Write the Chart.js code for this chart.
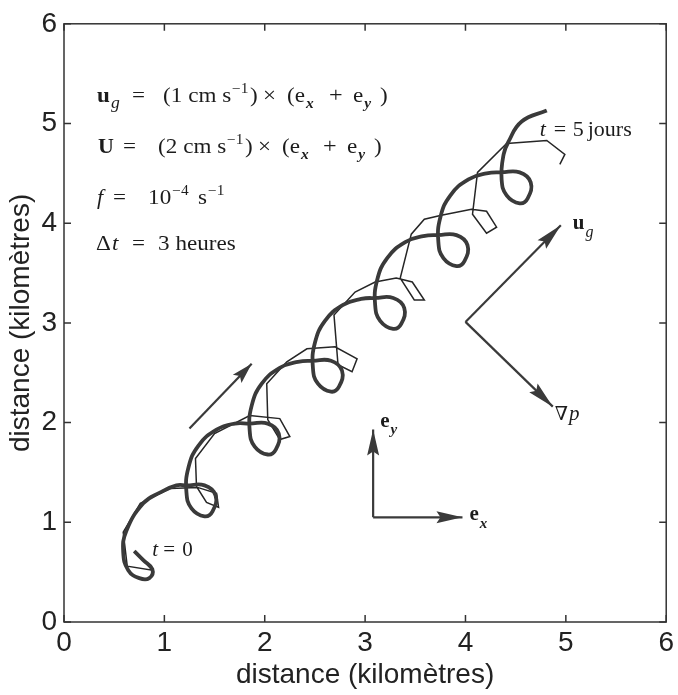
<!DOCTYPE html>
<html>
<head>
<meta charset="utf-8">
<script src="https://cdn.jsdelivr.net/npm/chart.js@4.4.1/dist/chart.umd.min.js"></script>
<style>
  html, body { margin: 0; padding: 0; background: #fff; }
  #wrap { width: 678px; height: 695px; }
</style>
</head>
<body>
<div id="wrap"><canvas id="chartSpirale"></canvas></div>
<script>
// trajectoire exacte (trait epais), en km
const spiraleX = [
  0.70, 0.79, 0.88, 0.85, 0.75, 0.64, 0.59, 0.62, 0.79, 0.96, 1.12,
  1.22, 1.40, 1.51, 1.48, 1.40, 1.27, 1.22, 1.24, 1.34, 1.52, 1.70,
  1.85, 2.03, 2.14, 2.11, 2.03, 1.90, 1.85, 1.87, 1.97, 2.15, 2.33,
  2.48, 2.66, 2.77, 2.74, 2.66, 2.53, 2.48, 2.50, 2.60, 2.78, 2.96,
  3.10, 3.28, 3.39, 3.36, 3.28, 3.15, 3.10, 3.12, 3.22, 3.40, 3.58,
  3.73, 3.91, 4.02, 3.99, 3.91, 3.78, 3.73, 3.75, 3.85, 4.03, 4.21,
  4.36, 4.54, 4.65, 4.62, 4.54, 4.41, 4.36, 4.38, 4.43, 4.56, 4.81
];
const spiraleY = [
  0.71, 0.62, 0.53, 0.44, 0.44, 0.52, 0.70, 0.91, 1.19, 1.30, 1.37,
  1.37, 1.37, 1.27, 1.11, 1.06, 1.14, 1.30, 1.55, 1.77, 1.93, 1.99,
  1.99, 1.99, 1.89, 1.73, 1.68, 1.76, 1.92, 2.17, 2.39, 2.55, 2.61,
  2.62, 2.62, 2.52, 2.36, 2.31, 2.39, 2.55, 2.80, 3.02, 3.18, 3.24,
  3.25, 3.25, 3.15, 2.99, 2.94, 3.02, 3.18, 3.43, 3.65, 3.81, 3.87,
  3.88, 3.88, 3.78, 3.62, 3.57, 3.65, 3.81, 4.06, 4.28, 4.44, 4.50,
  4.51, 4.51, 4.41, 4.25, 4.20, 4.28, 4.44, 4.69, 4.82, 5.02, 5.13
];

// schema numerique, pas de 3 heures (trait fin)
const pasX = [
  0.70, 0.88, 0.63, 0.59, 0.76, 1.06, 1.33, 1.52, 1.54, 1.42, 1.32,
  1.31, 1.50, 1.85, 2.15, 2.25, 2.15, 2.03, 2.02, 2.22, 2.42,
  2.70, 2.92, 2.87, 2.73, 2.69, 2.90, 3.10, 3.31, 3.47, 3.59, 3.49, 3.35,
  3.46, 3.59, 3.76, 4.06, 4.21, 4.31, 4.21, 4.07, 4.12, 4.41, 4.81, 4.99, 4.94
];
const pasY = [
  0.71, 0.52, 0.56, 0.90, 1.19, 1.34, 1.35, 1.29, 1.15, 1.20, 1.36,
  1.64, 1.89, 2.07, 2.04, 1.86, 1.83, 2.03, 2.39, 2.61, 2.74,
  2.76, 2.64, 2.51, 2.58, 3.08, 3.31, 3.41, 3.45, 3.41, 3.23, 3.23, 3.45,
  3.89, 4.04, 4.08, 4.14, 4.12, 3.96, 3.90, 4.09, 4.51, 4.80, 4.83, 4.69, 4.59
];

const ticksKm = [0, 1, 2, 3, 4, 5, 6];

// fleches : depart -> pointe
const flechesNoms = ["courant", "ug", "gradp", "ey", "ex"];
const flechesX0 = [1.25, 4.00, 4.00, 3.08, 3.08];
const flechesY0 = [1.94, 3.01, 3.01, 1.05, 1.05];
const flechesX1 = [1.87, 4.95, 4.87, 3.08, 3.97];
const flechesY1 = [2.59, 3.98, 2.16, 1.93, 1.05];
const tetes = [21, 27, 27, 26, 26];

const SERIF = '"Liberation Serif", "DejaVu Serif", serif';
const SANS = '"Liberation Sans", Arial, sans-serif';
const ENCRE = "#1c1c1c";

function points(xs, ys){
    return xs.map((x, i) => ({x: x, y: ys[i]}));
}

// morceau = [texte, police, position x (px) ou null = a la suite, decalage y]
function ecrire(ctx, x, y, morceaux, sx){
    sx = sx || 1;
    let cx = 0;
    morceaux.forEach(m => {
        ctx.font = m[1];
        if (m[2] !== null) cx = m[2];
        else cx += 1;
        ctx.save();
        ctx.translate(x + cx, y + (m[3] || 0));
        ctx.scale(sx, 1);
        ctx.fillText(m[0], 0, 0);
        ctx.restore();
        cx += ctx.measureText(m[0]).width * sx;
    });
}

const R = "21px " + SERIF;
const PLUS = "22px " + SERIF;
const SUP = "14px " + SERIF;
const SUB = "bold italic 14px " + SERIF;

const decor = {
    id: "decor",
    afterDatasetsDraw(chart){
        const {ctx, chartArea: a, scales: {x, y}} = chart;
        ctx.save();

        // cadre et graduations vers l'interieur
        ctx.strokeStyle = "#333";
        ctx.lineWidth = 1.5;
        ctx.strokeRect(a.left, a.top, a.right - a.left, a.bottom - a.top);
        ctx.beginPath();
        ticksKm.forEach(v => {
            const px = x.getPixelForValue(v);
            const py = y.getPixelForValue(v);
            ctx.moveTo(px, a.bottom); ctx.lineTo(px, a.bottom - 7);
            ctx.moveTo(px, a.top); ctx.lineTo(px, a.top + 7);
            ctx.moveTo(a.left, py); ctx.lineTo(a.left + 7, py);
            ctx.moveTo(a.right, py); ctx.lineTo(a.right - 7, py);
        });
        ctx.stroke();

        // pointes des fleches
        ctx.fillStyle = "#3a3a3a";
        flechesNoms.forEach((n, i) => {
            const x0 = x.getPixelForValue(flechesX0[i]), y0 = y.getPixelForValue(flechesY0[i]);
            const x1 = x.getPixelForValue(flechesX1[i]), y1 = y.getPixelForValue(flechesY1[i]);
            const ang = Math.atan2(y1 - y0, x1 - x0);
            const L = tetes[i], W = 6;
            ctx.save();
            ctx.translate(x1, y1);
            ctx.rotate(ang);
            ctx.beginPath();
            ctx.moveTo(0, 0);
            ctx.lineTo(-L, -W);
            ctx.lineTo(-L + 4, 0);
            ctx.lineTo(-L, W);
            ctx.closePath();
            ctx.fill();
            ctx.restore();
        });

        // textes
        ctx.fillStyle = ENCRE;
        ctx.textBaseline = "alphabetic";
        ctx.textAlign = "left";
        const X = v => x.getPixelForValue(v);
        const Y = v => y.getPixelForValue(v);

        ecrire(ctx, X(0.33), Y(5.22), [
            ["u", "bold 21px " + SERIF, 0], ["g", "italic 16px " + SERIF, null, 6],
            ["=", R, 35], ["(1 cm s", R, 66], ["\u22121", SUP, null, -9],
            [")", R, 153], ["\u00d7", R, 166], ["(e", R, 190], ["x", SUB, null, 6],
            ["+", PLUS, 232], ["e", R, 256], ["y", SUB, null, 6], [")", R, 283]
        ], 1.1);
        ecrire(ctx, X(0.33), Y(4.70), [
            ["U", "bold 20px " + SERIF, 1],
            ["=", R, 26], ["(2 cm s", R, 61], ["\u22121", SUP, null, -9],
            [")", R, 148], ["\u00d7", R, 161], ["(e", R, 185], ["x", SUB, null, 6],
            ["+", PLUS, 226], ["e", R, 250], ["y", SUB, null, 6], [")", R, 277]
        ], 1.1);
        ecrire(ctx, X(0.33), Y(4.19), [
            ["f", "italic 20px " + SERIF, 0], ["=", R, 16], ["10", R, 51],
            ["\u22124", SUP, null, -9], ["s", R, 101], ["\u22121", SUP, null, -9]
        ], 1.1);
        ecrire(ctx, X(0.33), Y(3.73), [
            ["\u0394", R, -1], ["t", "italic 21px " + SERIF, null], ["=", R, 35],
            ["3 heures", R, 61]
        ], 1.1);

        ecrire(ctx, X(0.88), Y(0.66), [
            ["t", "italic 21px " + SERIF, 0], ["=", "21px " + SERIF, 11], ["0", "21px " + SERIF, 30]
        ]);
        ecrire(ctx, X(4.74), Y(4.87), [
            ["t", "italic 22px " + SERIF, 0], ["=", "22px " + SERIF, 14],
            ["5", "22px " + SERIF, 33], ["jours", "22px " + SERIF, 48]
        ]);
        ecrire(ctx, X(5.07), Y(3.94), [
            ["u", "bold 21px " + SERIF, 0], ["g", "italic 16px " + SERIF, null, 8]
        ]);
        ecrire(ctx, X(4.89), Y(2.03), [
            ["\u2207", "19px " + SERIF, 0], ["p", "italic 21px " + SERIF, null]
        ]);
        ecrire(ctx, X(3.15), Y(1.96), [
            ["e", "bold 21px " + SERIF, 0], ["y", "bold italic 15px " + SERIF, null, 7]
        ]);
        ecrire(ctx, X(4.04), Y(1.02), [
            ["e", "bold 21px " + SERIF, 0], ["x", "bold italic 15px " + SERIF, null, 8]
        ]);

        ctx.restore();
    }
};

document.addEventListener("DOMContentLoaded", () => {
    const ctx = document.getElementById("chartSpirale");

    const fleches = flechesNoms.map((n, i) => ({
        label: n,
        data: [{x: flechesX0[i], y: flechesY0[i]}, {x: flechesX1[i], y: flechesY1[i]}],
        showLine: true,
        borderColor: "#3a3a3a",
        borderWidth: 2.2,
        pointRadius: 0,
        tension: 0
    }));

    new Chart(ctx, {
        type: "scatter",
        data: {
            datasets: [
                {
                    label: "exacte",
                    data: points(spiraleX, spiraleY),
                    showLine: true,
                    borderColor: "#3a3a3a",
                    borderWidth: 3.8,
                    pointRadius: 0,
                    tension: 0.45
                },
                {
                    label: "pas de 3 h",
                    data: points(pasX, pasY),
                    showLine: true,
                    borderColor: "#262626",
                    borderWidth: 1.5,
                    pointRadius: 0,
                    tension: 0
                },
                ...fleches
            ]
        },
        options: {
            responsive: true,
            maintainAspectRatio: false,
            animation: false,
            devicePixelRatio: 1,
            layout: { padding: { top: 20, right: 11, left: 0, bottom: 0 } },
            plugins: { legend: { display: false }, tooltip: { enabled: false } },
            scales: {
                x: {
                    type: "linear", min: 0, max: 6,
                    afterFit: s => { s.height = 73; },
                    grid: { display: false, drawTicks: false },
                    border: { display: false },
                    ticks: { stepSize: 1, padding: 4, color: "#222", font: { family: SANS, size: 28 } },
                    title: {
                        display: true, text: "distance (kilomètres)", color: "#222",
                        font: { family: SANS, size: 28 }, padding: { top: 0, bottom: 3 }
                    }
                },
                y: {
                    type: "linear", min: 0, max: 6,
                    afterFit: s => { s.width = 64; },
                    grid: { display: false, drawTicks: false },
                    border: { display: false },
                    ticks: { stepSize: 1, padding: 7, color: "#222", font: { family: SANS, size: 28 } },
                    title: {
                        display: true, text: "distance (kilomètres)", color: "#222",
                        font: { family: SANS, size: 28 }, padding: { top: 4, bottom: 0 }
                    }
                }
            }
        },
        plugins: [decor]
    });
});
</script>
</body>
</html>
